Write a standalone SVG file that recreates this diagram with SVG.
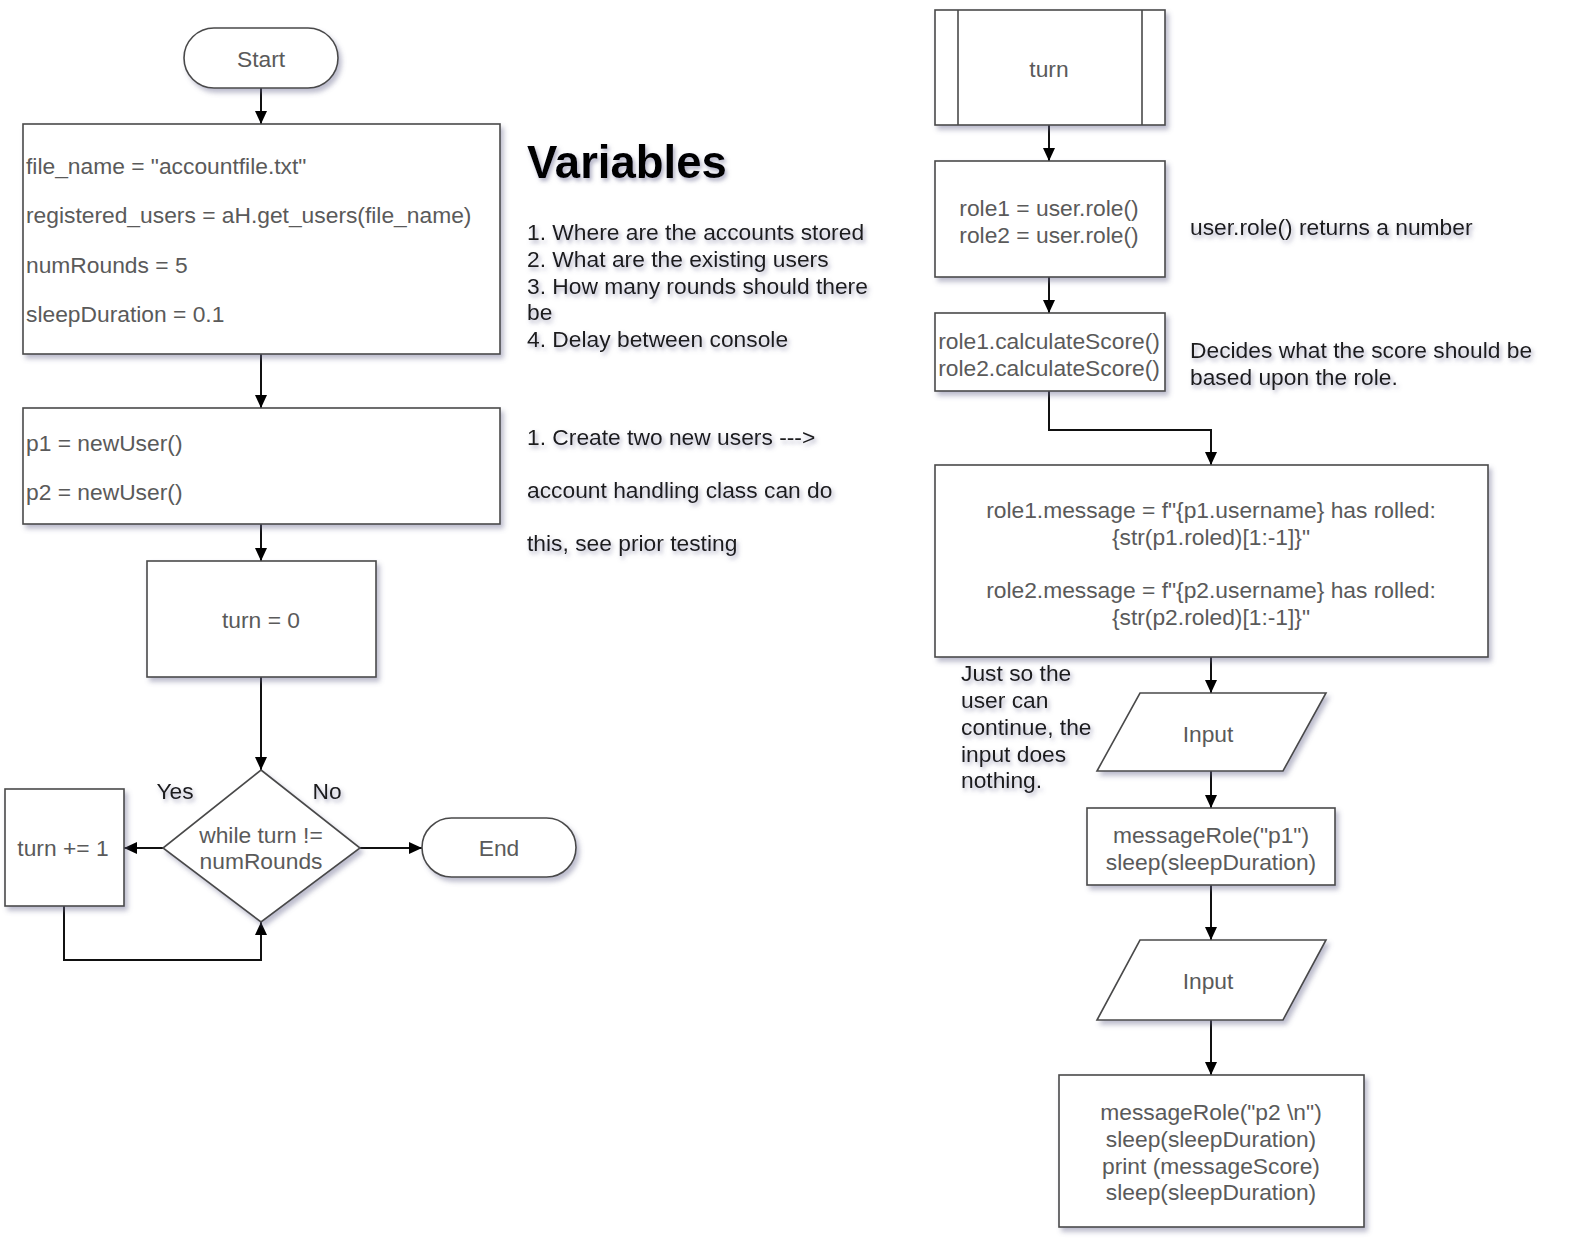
<svg xmlns="http://www.w3.org/2000/svg" width="1571" height="1251" viewBox="0 0 1571 1251">
<defs>
<filter id="sh" x="-10%" y="-10%" width="130%" height="130%">
<feDropShadow dx="3" dy="4" stdDeviation="2.5" flood-color="#6a6a90" flood-opacity="0.45"/>
</filter>
<filter id="tsh" x="-10%" y="-30%" width="130%" height="180%">
<feDropShadow dx="2" dy="3" stdDeviation="2" flood-color="#6a6a90" flood-opacity="0.55"/>
</filter>
<marker id="ah" markerUnits="userSpaceOnUse" markerWidth="14" markerHeight="14" refX="13" refY="7" orient="auto">
<path d="M0,1 L13,7 L0,13 z" fill="#000"/>
</marker>
</defs>
<style>
.shape{fill:#fff;stroke:#4a4a4a;stroke-width:1.6;filter:url(#sh)}
.in{stroke:#4a4a4a;stroke-width:1.6;fill:none}
.t{font-family:"Liberation Sans",Arial,sans-serif;font-size:22.8px;fill:#5a5a5a}
.c{text-anchor:middle;dominant-baseline:central}
.l{dominant-baseline:central}
.n{font-family:"Liberation Sans",Arial,sans-serif;font-size:22.8px;fill:#1a1a1a;filter:url(#tsh);dominant-baseline:central}
.h{font-family:"Liberation Sans",Arial,sans-serif;font-size:45.5px;font-weight:bold;fill:#000;filter:url(#tsh);dominant-baseline:central}
.e{fill:none;stroke:#111;stroke-width:2}
</style>
<rect width="1571" height="1251" fill="#fff"/>

<g id="connectors">
<path class="e" d="M261,88 V124" marker-end="url(#ah)"/>
<path class="e" d="M261,354 V408" marker-end="url(#ah)"/>
<path class="e" d="M261,524 V561" marker-end="url(#ah)"/>
<path class="e" d="M261,677 V770" marker-end="url(#ah)"/>
<path class="e" d="M163,848 H124" marker-end="url(#ah)"/>
<path class="e" d="M360,848 H422" marker-end="url(#ah)"/>
<path class="e" d="M64,906 V960 H261 V922" marker-end="url(#ah)"/>
<path class="e" d="M1049,125 V161" marker-end="url(#ah)"/>
<path class="e" d="M1049,277 V313" marker-end="url(#ah)"/>
<path class="e" d="M1049,391 V430 H1211 V465" marker-end="url(#ah)"/>
<path class="e" d="M1211,657 V693" marker-end="url(#ah)"/>
<path class="e" d="M1211,771 V808" marker-end="url(#ah)"/>
<path class="e" d="M1211,885 V940" marker-end="url(#ah)"/>
<path class="e" d="M1211,1020 V1075" marker-end="url(#ah)"/>
</g>

<g id="start">
<rect class="shape" x="184" y="28" width="154" height="60" rx="30"/>
<text class="t c" x="261" y="59">Start</text>
</g>

<g id="variables-box">
<rect class="shape" x="23" y="124" width="477" height="230"/>
<text class="t l" x="26" y="166">file_name = "accountfile.txt"</text>
<text class="t l" x="26" y="215">registered_users = aH.get_users(file_name)</text>
<text class="t l" x="26" y="265">numRounds = 5</text>
<text class="t l" x="26" y="314">sleepDuration = 0.1</text>
</g>

<g id="variables-note">
<text class="h" x="527" y="162">Variables</text>
<text class="n" x="527" y="232">1. Where are the accounts stored</text>
<text class="n" x="527" y="259">2. What are the existing users</text>
<text class="n" x="527" y="286">3. How many rounds should there</text>
<text class="n" x="527" y="312">be</text>
<text class="n" x="527" y="339">4. Delay between console</text>
</g>

<g id="users-box">
<rect class="shape" x="23" y="408" width="477" height="116"/>
<text class="t l" x="26" y="443">p1 = newUser()</text>
<text class="t l" x="26" y="492">p2 = newUser()</text>
</g>

<g id="users-note">
<text class="n" x="527" y="437">1. Create two new users ---&gt;</text>
<text class="n" x="527" y="490">account handling class can do</text>
<text class="n" x="527" y="543">this, see prior testing</text>
</g>

<g id="turn-init">
<rect class="shape" x="147" y="561" width="229" height="116"/>
<text class="t c" x="261" y="620">turn = 0</text>
</g>

<g id="decision">
<polygon class="shape" points="261,770 360,848 261,922 163,848"/>
<text class="t c" x="261" y="835">while turn !=</text>
<text class="t c" x="261" y="861">numRounds</text>
</g>

<g id="labels">
<text class="n" x="175" y="791" text-anchor="middle">Yes</text>
<text class="n" x="327" y="791" text-anchor="middle">No</text>
</g>

<g id="increment">
<rect class="shape" x="5" y="789" width="119" height="117"/>
<text class="t c" x="63" y="848">turn += 1</text>
</g>

<g id="end">
<rect class="shape" x="422" y="818" width="154" height="59" rx="29.5"/>
<text class="t c" x="499" y="848">End</text>
</g>

<g id="turn-process">
<rect class="shape" x="935" y="10" width="230" height="115"/>
<line class="in" x1="958" y1="10" x2="958" y2="125"/>
<line class="in" x1="1142" y1="10" x2="1142" y2="125"/>
<text class="t c" x="1049" y="69">turn</text>
</g>

<g id="roles-box">
<rect class="shape" x="935" y="161" width="230" height="116"/>
<text class="t c" x="1049" y="208">role1 = user.role()</text>
<text class="t c" x="1049" y="235">role2 = user.role()</text>
</g>
<g id="roles-note">
<text class="n" x="1190" y="227">user.role() returns a number</text>
</g>

<g id="score-box">
<rect class="shape" x="935" y="313" width="230" height="78"/>
<text class="t c" x="1049" y="341">role1.calculateScore()</text>
<text class="t c" x="1049" y="368">role2.calculateScore()</text>
</g>
<g id="score-note">
<text class="n" x="1190" y="350">Decides what the score should be</text>
<text class="n" x="1190" y="377">based upon the role.</text>
</g>

<g id="message-box">
<rect class="shape" x="935" y="465" width="553" height="192"/>
<text class="t c" x="1211" y="510">role1.message = f"{p1.username} has rolled:</text>
<text class="t c" x="1211" y="537">{str(p1.roled)[1:-1]}"</text>
<text class="t c" x="1211" y="590">role2.message = f"{p2.username} has rolled:</text>
<text class="t c" x="1211" y="617">{str(p2.roled)[1:-1]}"</text>
</g>

<g id="input-note">
<text class="n" x="961" y="673">Just so the</text>
<text class="n" x="961" y="700">user can</text>
<text class="n" x="961" y="727">continue, the</text>
<text class="n" x="961" y="754">input does</text>
<text class="n" x="961" y="780">nothing.</text>
</g>

<g id="input-1">
<polygon class="shape" points="1140,693 1326,693 1283,771 1097,771"/>
<text class="t c" x="1208" y="734">Input</text>
</g>

<g id="message-p1">
<rect class="shape" x="1087" y="808" width="248" height="77"/>
<text class="t c" x="1211" y="835">messageRole("p1")</text>
<text class="t c" x="1211" y="862">sleep(sleepDuration)</text>
</g>

<g id="input-2">
<polygon class="shape" points="1140,940 1326,940 1283,1020 1097,1020"/>
<text class="t c" x="1208" y="981">Input</text>
</g>

<g id="message-p2">
<rect class="shape" x="1059" y="1075" width="305" height="152"/>
<text class="t c" x="1211" y="1112">messageRole("p2 \n")</text>
<text class="t c" x="1211" y="1139">sleep(sleepDuration)</text>
<text class="t c" x="1211" y="1166">print (messageScore)</text>
<text class="t c" x="1211" y="1192">sleep(sleepDuration)</text>
</g>
</svg>
